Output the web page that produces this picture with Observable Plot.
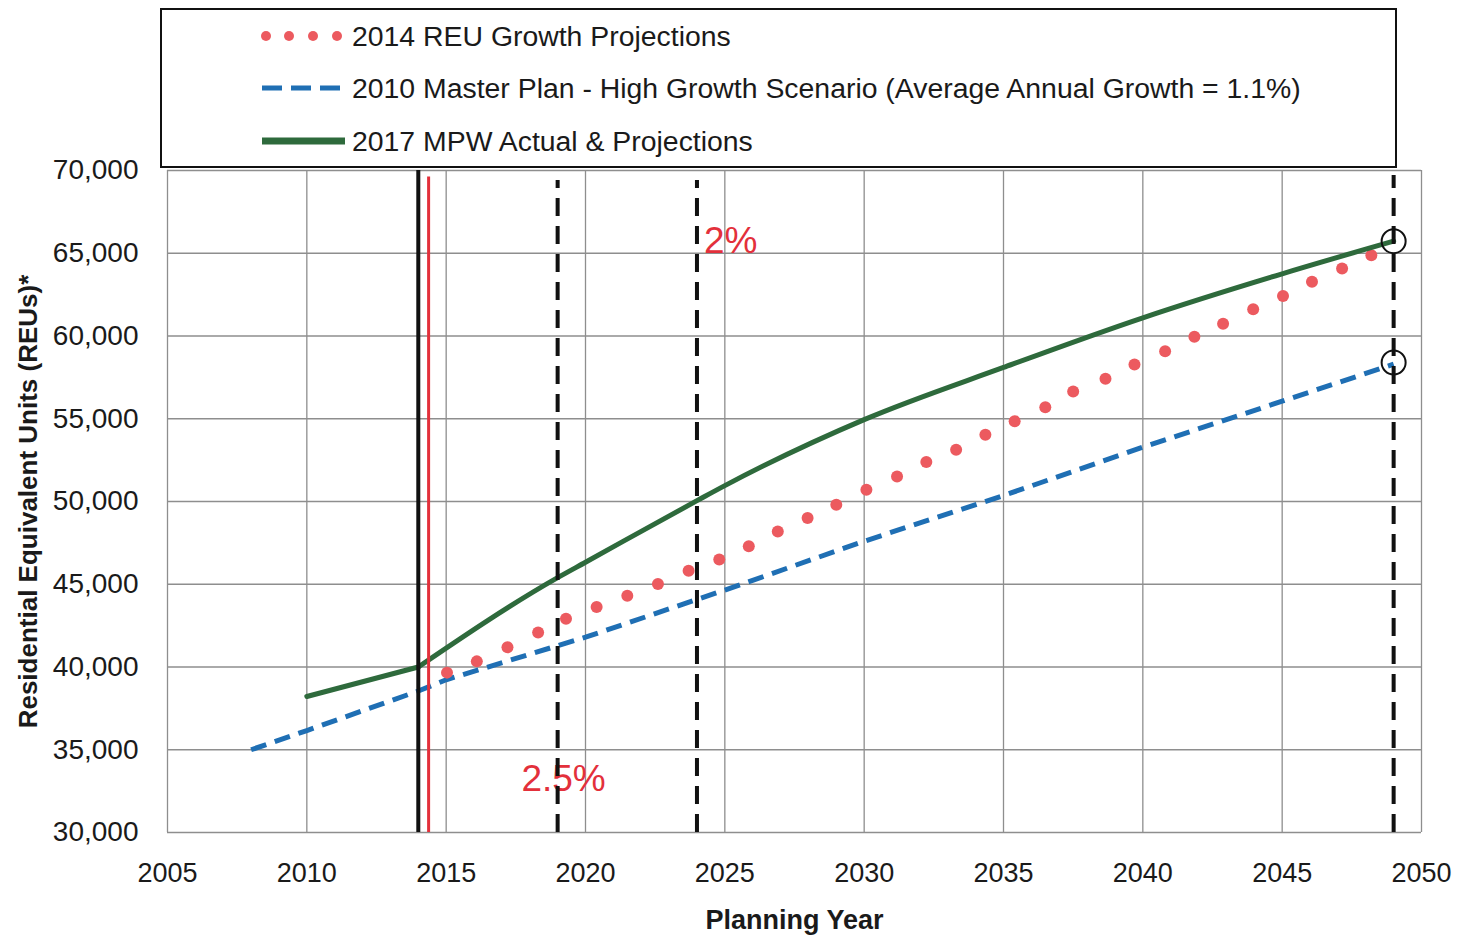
<!DOCTYPE html>
<html>
<head>
<meta charset="utf-8">
<script src="https://cdn.jsdelivr.net/npm/d3@7"></script>
<script src="https://cdn.jsdelivr.net/npm/@observablehq/plot@0.6"></script>
<style>
  html, body { margin: 0; padding: 0; background: #fff; }
  #wrap { position: relative; width: 1458px; height: 938px; font-family: "Liberation Sans", Arial, sans-serif; }
  #legend { position: absolute; left: 0; top: 0; z-index: 2; }
  #chart { position: absolute; left: 0; top: 0; z-index: 1; }
</style>
</head>
<body>
<div id="wrap">
  <div id="chart"></div>
  <svg id="legend" width="1458" height="172"></svg>
</div>
<script>
// ---------- data ----------
const xTicks = [2005, 2010, 2015, 2020, 2025, 2030, 2035, 2040, 2045, 2050];
const yTicks = [30000, 35000, 40000, 45000, 50000, 55000, 60000, 65000, 70000];

// 2014 REU Growth Projections (dots)
const reuYears = [2015.03, 2016.1, 2017.2, 2018.3, 2019.3, 2020.4, 2021.5, 2022.6, 2023.7, 2024.8,
  2025.86, 2026.9, 2027.97, 2029.0, 2030.08, 2031.18, 2032.23, 2033.3, 2034.35, 2035.4, 2036.5,
  2037.5, 2038.66, 2039.7, 2040.8, 2041.85, 2042.88, 2043.96, 2045.03, 2046.07, 2047.15, 2048.2];
const reuValues = [39660, 40340, 41190, 42080, 42920, 43630, 44310, 45020, 45810, 46500,
  47300, 48190, 49010, 49800, 50710, 51510, 52380, 53120, 54030, 54850, 55700,
  56650, 57420, 58280, 59080, 59950, 60740, 61620, 62420, 63280, 64080, 64880];

// 2010 Master Plan - High Growth Scenario (dashed blue)
const masterYears = [2008, 2010, 2014, 2015, 2020, 2025, 2030, 2035, 2040, 2045, 2049];
const masterValues = [35000, 36160, 38550, 39230, 41800, 44650, 47600, 50360, 53280, 56060, 58300];

// 2017 MPW Actual (2010-2014) & Projections (2014-2049) (green)
const mpwActualYears = [2010, 2014];
const mpwActualValues = [38220, 40000];
const mpwProjYears = [2014, 2019, 2020, 2024, 2025, 2030, 2035, 2040, 2045, 2049];
const mpwProjValues = [40000, 45400, 46330, 50050, 50960, 54950, 58100, 61100, 63760, 65730];

// reference lines
const actualYear = [2014];
const redLineYear = [2014.37];
const dashedYears = [2019, 2024, 2049];
const dashedTops = [69400, 69400, 69700];
const circleYear = [2049, 2049];
const circleValues = [65730, 58400];

// annotations
const annoLabels = ["2%", "2.5%"];
const annoX = [2024.25, 2017.7];
const annoY = [65720, 33230];

// legend
const legendLabels = [
  "2014 REU Growth Projections",
  "2010 Master Plan - High Growth Scenario (Average Annual Growth = 1.1%)",
  "2017 MPW Actual & Projections"
];

// ---------- colours ----------
const RED_DOT = "#ec5a5f";
const BLUE = "#1f6fb4";
const GREEN = "#2e6a3c";
const RED_LINE = "#e3303b";
const GRID = "#8e8e8e";

const reu = reuYears.map((x, i) => ({x, y: reuValues[i]}));
const master = masterYears.map((x, i) => ({x, y: masterValues[i]}));
const mpwActual = mpwActualYears.map((x, i) => ({x, y: mpwActualValues[i]}));
const mpwProj = mpwProjYears.map((x, i) => ({x, y: mpwProjValues[i]}));
const dashed = dashedYears.map((x, i) => ({x, y1: 30000, y2: dashedTops[i]}));
const circles = circleYear.map((x, i) => ({x, y: circleValues[i]}));
const annos = annoLabels.map((t, i) => ({x: annoX[i], y: annoY[i], t}));
const redRule = redLineYear.map(x => ({x, y1: 30000, y2: 69600}));

const chart = Plot.plot({
  width: 1458,
  height: 938,
  marginLeft: 167,
  marginRight: 37,
  marginTop: 170,
  marginBottom: 106,
  x: {domain: [2005, 2050]},
  y: {domain: [30000, 70000]},
  style: {fontFamily: "'Liberation Sans', Arial, sans-serif", fontSize: "27px", color: "#1a1a1a", background: "white", overflow: "visible"},
  marks: [
    Plot.ruleX(xTicks, {stroke: GRID, strokeWidth: 1.3}),
    Plot.ruleY(yTicks, {stroke: GRID, strokeWidth: 1.3}),
    Plot.axisX(xTicks, {tickSize: 0, tickPadding: 30, tickFormat: d => String(d), fontSize: 27, label: null}),
    Plot.axisY(yTicks, {tickSize: 0, tickPadding: 29, tickFormat: d3.format(","), fontSize: 28, label: null}),
    Plot.text(["Planning Year"], {frameAnchor: "bottom", dy: 96, fontSize: 27, fontWeight: "bold", text: d => d, fill: "#1a1a1a"}),
    Plot.text(["Residential Equivalent Units (REUs)*"], {frameAnchor: "left", dx: -139, rotate: -90, textAnchor: "middle", fontSize: 26, fontWeight: "bold", text: d => d, fill: "#1a1a1a"}),
    Plot.text(annos, {x: "x", y: "y", text: "t", fill: RED_LINE, fontSize: 37, textAnchor: "start", lineAnchor: "middle"}),
    Plot.line(master, {x: "x", y: "y", stroke: BLUE, strokeWidth: 5, strokeDasharray: "16,9", strokeLinecap: "butt"}),
    Plot.dot(reu, {x: "x", y: "y", r: 6, fill: RED_DOT, stroke: "none"}),
    Plot.line(mpwActual, {x: "x", y: "y", stroke: GREEN, strokeWidth: 5}),
    Plot.line(mpwProj, {x: "x", y: "y", stroke: GREEN, strokeWidth: 5, curve: "monotone-x"}),
    Plot.ruleX(redRule, {x: "x", y1: "y1", y2: "y2", stroke: RED_LINE, strokeWidth: 3}),
    Plot.ruleX(actualYear, {stroke: "#111", strokeWidth: 4}),
    Plot.ruleX(dashed, {x: "x", y1: "y1", y2: "y2", stroke: "#111", strokeWidth: 4, strokeDasharray: "18,10"}),
    Plot.dot(circles, {x: "x", y: "y", r: 12, stroke: "#111", strokeWidth: 2, fill: "none"})
  ]
});
document.getElementById("chart").appendChild(chart);

// ---------- legend ----------
const lg = d3.select("#legend");
lg.append("rect").attr("x", 161).attr("y", 9).attr("width", 1235).attr("height", 158)
  .attr("fill", "white").attr("stroke", "#111").attr("stroke-width", 2);
const rowY = [36, 88, 141];
[266, 289, 313, 337].forEach(cx => lg.append("circle").attr("cx", cx).attr("cy", rowY[0]).attr("r", 5).attr("fill", RED_DOT));
lg.append("line").attr("x1", 262).attr("x2", 344).attr("y1", rowY[1]).attr("y2", rowY[1])
  .attr("stroke", BLUE).attr("stroke-width", 5).attr("stroke-dasharray", "20,9");
lg.append("line").attr("x1", 262).attr("x2", 345).attr("y1", rowY[2]).attr("y2", rowY[2])
  .attr("stroke", GREEN).attr("stroke-width", 7);
legendLabels.forEach((t, i) => {
  lg.append("text").attr("x", 352).attr("y", rowY[i]).attr("dy", "0.35em")
    .attr("font-family", "'Liberation Sans', Arial, sans-serif").attr("font-size", 28.4)
    .attr("fill", "#1a1a1a").text(t);
});
</script>
</body>
</html>
